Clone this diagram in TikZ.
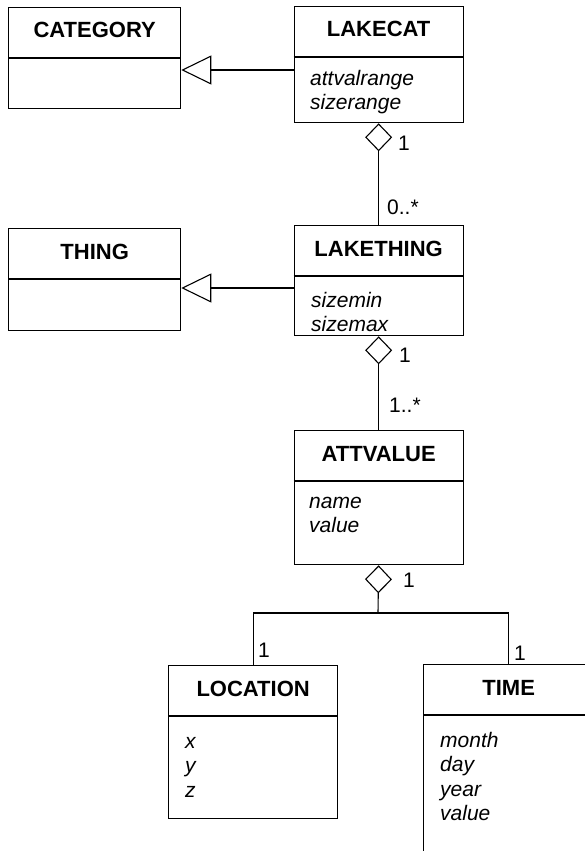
\documentclass[tikz,border=0pt]{standalone}
\usepackage{fontspec}
\setmainfont{Liberation Sans}
\usetikzlibrary{arrows.meta}

% class box: name, left, top, right, bottom, title
\newcommand\umlclass[6]{%
  \node[classbox, minimum width={#4-#2}, minimum height={#5-#3}] (#1) at (#2,#3) {};
  \draw[boxline] (#1.west |- 0,{#3+51}) -- (#1.east |- 0,{#3+51});
  \node[ctitle] (#1-title) at (#1.north |- 0,{#3+31}) {#6};
}
% attribute lines: name, x, first baseline, list
\newcommand\umlattrs[4]{%
  \foreach \t [count=\i] in {#4} {
    \node[attr] (#1-a\i) at (#2,{#3+(\i-1)*24.5}) {\t};
  }
}

\begin{document}
\begin{tikzpicture}[x=1pt,y=-1pt,
  boxline/.style={line width=1.3pt},
  classbox/.style={draw, boxline, inner sep=0pt, anchor=north west},
  ctitle/.style={font=\fontsize{22}{26}\selectfont\bfseries, inner sep=0pt, anchor=base},
  attr/.style={font=\fontsize{21}{25}\selectfont\itshape, inner sep=0pt, anchor=base west},
  mult/.style={font=\fontsize{21}{25}\selectfont, inner sep=0pt, anchor=base west},
  link/.style={line width=1.1pt},
  gen/.style={link, -{Triangle[open, length=30pt, width=29pt, line width=1.1pt]}},
  agg/.style={link, {Diamond[open, length=28pt, width=27pt, line width=1.1pt]}-},
]
\useasboundingbox (0,0) rectangle (585,851);
\fill[white] (0,0) rectangle (585,851);
\clip (0,0) rectangle (585,851);

% classes
\umlclass{category}{8}{7}{180}{108}{CATEGORY}
\umlclass{lakecat}{293.5}{6}{462.5}{122}{LAKECAT}
\umlclass{thing}{8}{228}{180}{330}{THING}
\umlclass{lakething}{293.5}{225}{462.5}{335}{LAKETHING}
\umlclass{attvalue}{293.5}{430}{462.5}{564}{ATTVALUE}
\umlclass{location}{168}{665}{337}{818}{LOCATION}
\umlclass{time}{423}{664}{593}{880}{TIME}

% attributes
\umlattrs{lakecat}{310}{85}{attvalrange,sizerange}
\umlattrs{lakething}{311}{307}{sizemin,sizemax}
\umlattrs{attvalue}{309}{508}{name,value}
\umlattrs{location}{185}{748}{x,y,z}
\umlattrs{time}{440}{747}{month,day,year,value}

% generalizations
\draw[gen] (lakecat.west |- 0,70) -- (category.east |- 0,70);
\draw[gen] (lakething.west |- 0,288) -- (thing.east |- 0,288);

% aggregations
\draw[agg] (lakecat.south) -- (lakething.north);
\draw[agg] (lakething.south) -- (attvalue.north);
\coordinate (bus) at (378,613);
\draw[agg] (attvalue.south) -- (bus);
\draw[link] (location.north) |- (bus) -| (time.north);

% multiplicities
\node[mult] (m-lakecat) at (398,150) {1};
\node[mult] (m-lakething-up) at (387,214) {0..*};
\node[mult] (m-lakething) at (399,362) {1};
\node[mult] (m-attvalue-up) at (389,412) {1..*};
\node[mult] (m-attvalue) at (403,587) {1};
\node[mult] (m-location) at (258,657) {1};
\node[mult] (m-time) at (514,660) {1};
\end{tikzpicture}
\end{document}
